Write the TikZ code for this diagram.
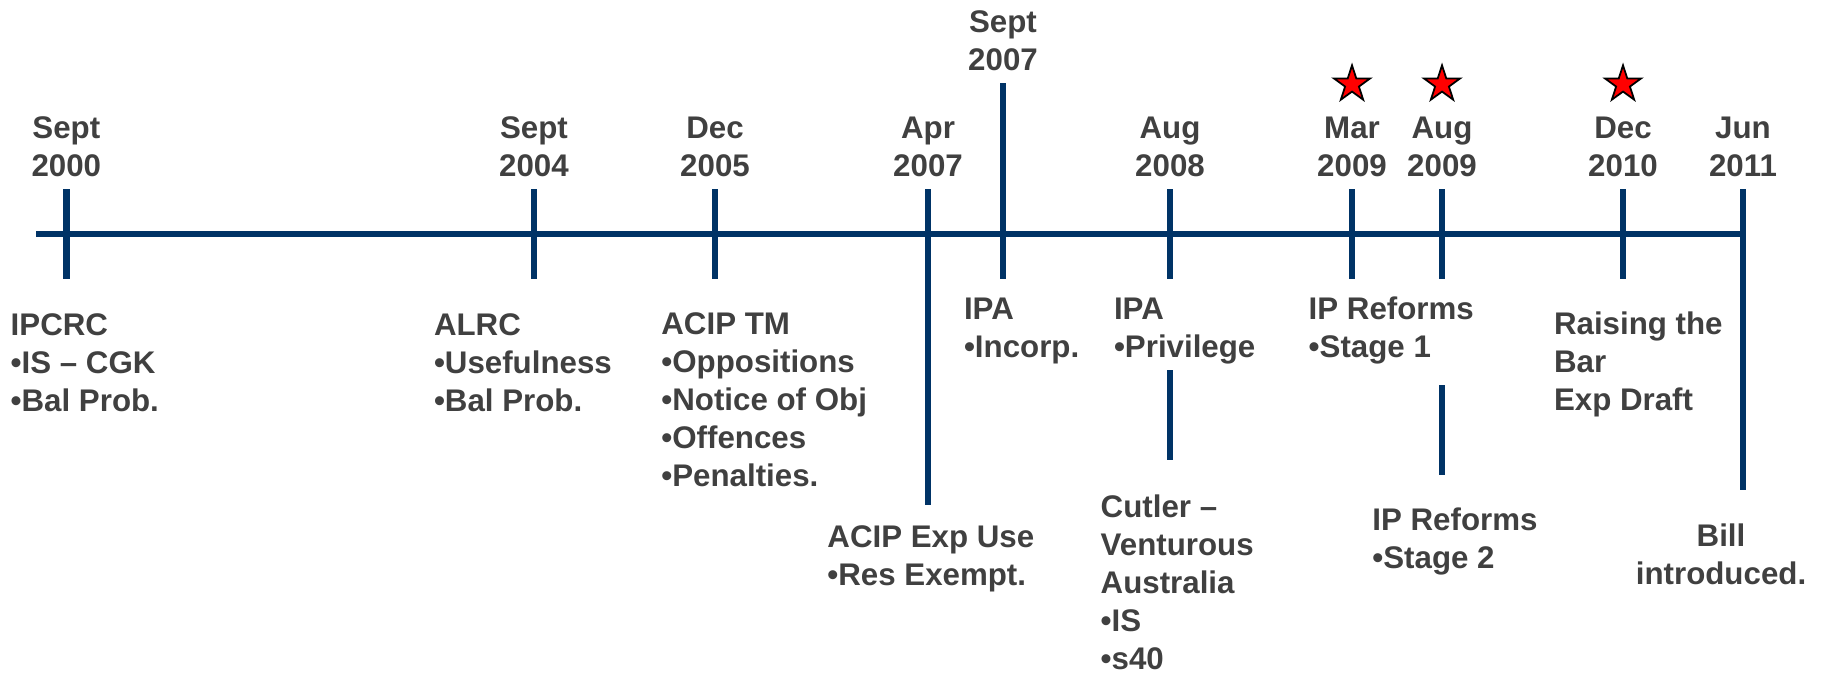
\documentclass[tikz,border=0pt]{standalone}
\usepackage{fontspec}
\setmainfont{Liberation Sans}
\usepackage{xcolor}
\usetikzlibrary{shapes.geometric,positioning}
\definecolor{tlblue}{RGB}{0,51,102}
\definecolor{tlgray}{RGB}{64,64,64}

\begin{document}
\begin{tikzpicture}[
    font=\fontsize{8.9}{10.8}\selectfont\bfseries,
    timeline/.style={
        draw=tlblue,
        line width=1.85pt
    },
    datelabel/.style={
        text=tlgray,
        inner sep=0pt,
        align=center,
        anchor=base
    },
    eventlabel/.style={
        text=tlgray,
        inner sep=0pt,
        align=left,
        anchor=base west
    },
    redstar/.style={
        star,
        star points=5,
        star point ratio=2.618,
        minimum size=0.38cm,
        inner sep=0pt,
        fill=red,
        draw=black,
        line width=0.5pt
    }
]
\useasboundingbox (0,0) rectangle (18.25,-6.74);

% main line and ticks
\draw[timeline] (0.36,-2.34) -- (17.43,-2.34);
\draw[timeline] (0.663,-1.89) -- (0.663,-2.79);
\draw[timeline] (5.34,-1.89) -- (5.34,-2.79);
\draw[timeline] (7.15,-1.89) -- (7.15,-2.79);
\draw[timeline] (9.28,-1.89) -- (9.28,-5.05);
\draw[timeline] (10.03,-0.83) -- (10.03,-2.79);
\draw[timeline] (11.70,-1.89) -- (11.70,-2.79);
\draw[timeline] (13.52,-1.89) -- (13.52,-2.79);
\draw[timeline] (14.42,-1.89) -- (14.42,-2.79);
\draw[timeline] (16.23,-1.89) -- (16.23,-2.79);
\draw[timeline] (17.43,-1.89) -- (17.43,-4.90);
\draw[timeline] (11.70,-3.70) -- (11.70,-4.60);
\draw[timeline] (14.42,-3.85) -- (14.42,-4.75);

% dates (anchored at the baseline of the last line)
\node[datelabel] (d2000) at (0.663,-1.767) {Sept\\2000};
\node[datelabel] (d2004) at (5.34,-1.767) {Sept\\2004};
\node[datelabel] (d2005) at (7.15,-1.767) {Dec\\2005};
\node[datelabel] (d2007a) at (9.28,-1.767) {Apr\\2007};
\node[datelabel] (d2007b) at (10.03,-0.707) {Sept\\2007};
\node[datelabel] (d2008) at (11.70,-1.767) {Aug\\2008};
\node[datelabel] (d2009a) at (13.52,-1.767) {Mar\\2009};
\node[datelabel] (d2009b) at (14.42,-1.767) {Aug\\2009};
\node[datelabel] (d2010) at (16.23,-1.767) {Dec\\2010};
\node[datelabel] (d2011) at (17.43,-1.767) {Jun\\2011};

% stars
\node[redstar] (s2009a) at (13.52,-0.843) {};
\node[redstar] (s2009b) at (14.42,-0.843) {};
\node[redstar] (s2010) at (16.23,-0.843) {};

% events
\node[eventlabel] (ipcrc) at (0.10,-4.117) {IPCRC\\•IS – CGK\\•Bal Prob.};
\node[eventlabel] (alrc) at (4.333,-4.117) {ALRC\\•Usefulness\\•Bal Prob.};
\node[eventlabel] (aciptm) at (6.607,-4.867)
{ACIP TM\\•Oppositions\\•Notice of Obj\\•Offences\\•Penalties.};
\node[eventlabel] (acipexp) at (8.267,-5.85) {ACIP Exp Use\\•Res Exempt.};
\node[eventlabel] (ipainc) at (9.633,-3.575) {IPA\\•Incorp.};
\node[eventlabel] (ipapriv) at (11.133,-3.575) {IPA\\•Privilege};
\node[eventlabel] (cutler) at (11.00,-6.693)
{Cutler –\\Venturous\\Australia\\•IS\\•s40};
\node[eventlabel] (ipref1) at (13.08,-3.573) {IP Reforms\\•Stage 1};
\node[eventlabel] (ipref2) at (13.717,-5.683) {IP Reforms\\•Stage 2};
\node[eventlabel] (raising) at (15.533,-4.107) {Raising the\\Bar\\Exp Draft};
\node[datelabel] (bill) at (17.21,-5.84) {Bill\\introduced.};

\end{tikzpicture}
\end{document}
